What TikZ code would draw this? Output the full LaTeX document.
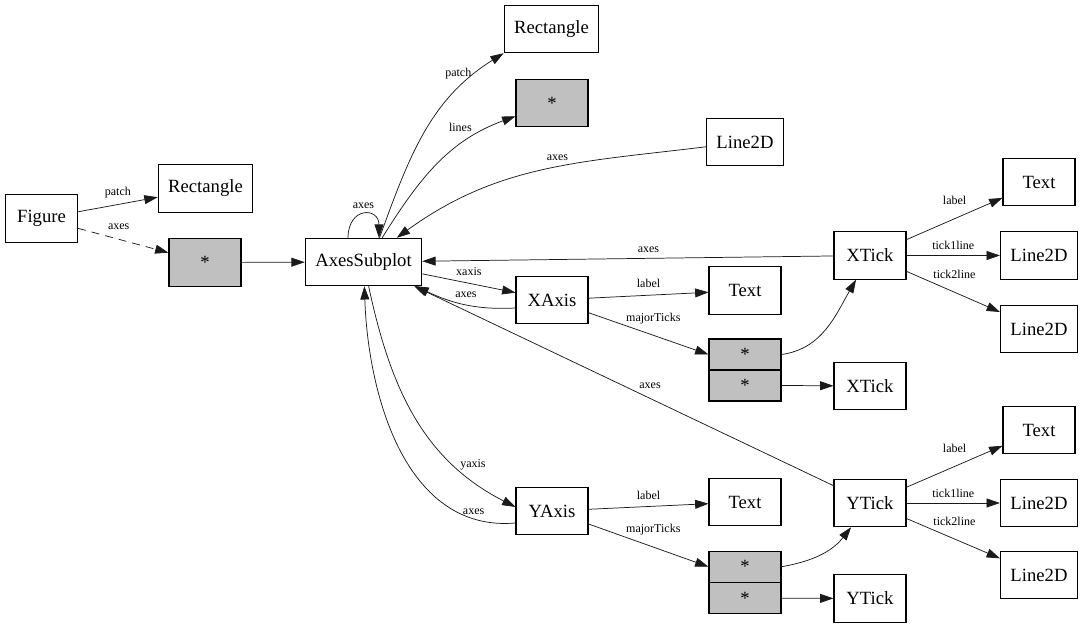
\documentclass[tikz,border=0pt]{standalone}
\usepackage{fontspec}
\setmainfont{Liberation Serif}
\usetikzlibrary{arrows.meta, positioning, calc}
\definecolor{refgray}{HTML}{C0C0C0}
\definecolor{edgeink}{HTML}{1A1A1A}

\begin{document}
\begin{tikzpicture}[
  x=0.75pt, y=0.75pt,
  >={Triangle[length=10pt, width=6.7pt]},
  obj/.style={draw, line width=0.8pt, minimum width=54pt, minimum height=35.5pt,
    inner xsep=7.5pt, font=\fontsize{14}{16}\selectfont},
  ref/.style={obj, fill=refgray},
  cell/.style={draw, line width=0.8pt, fill=refgray, minimum width=54pt,
    minimum height=23.25pt, inner sep=0pt, font=\fontsize{14}{16}\selectfont},
  link/.style={->, line width=0.55pt, draw=edgeink},
  lbl/.style={font=\fontsize{9}{10}\selectfont, inner sep=1pt,
    text height=6.2pt, text depth=1.9pt, text=black},
]

% Canvas: 1083 x 628 units, one unit per pixel of the layout
\useasboundingbox (0,0) rectangle (1083,628);

% --- Figure ---
\node[obj] (fig) at (41.5,409.5) {Figure};
\node[obj] (figpatch) at (205.5,439.5) {Rectangle};
\node[ref] (figaxes) at (205,365.5) {*};

% --- AxesSubplot and its children ---
\node[obj] (axsub) at (363.5,366) {AxesSubplot};
\node[obj] (axpatch) at (551.5,599) {Rectangle};
\node[ref] (axlines) at (552,525) {*};
\node[obj] (line) at (745,486) {Line2D};

% --- XAxis ---
\node[obj] (xaxis) at (552,328) {XAxis};
\node[obj] (xlabel) at (745,337.5) {Text};
\node[cell] (xmaj) at (745,273.5) {*};
\node[cell] (xmin) at (745,242.5) {*};
\node[obj] (xtick) at (870,372.5) {XTick};
\node[obj] (xtickb) at (870,242) {XTick};
\node[obj] (xtlabel) at (1039,446) {Text};
\node[obj] (xtline1) at (1039,372.5) {Line2D};
\node[obj] (xtline2) at (1039,299) {Line2D};

% --- YAxis ---
\node[obj] (yaxis) at (552,117) {YAxis};
\node[obj] (ylabel) at (745,126) {Text};
\node[cell] (ymaj) at (745,61.25) {*};
\node[cell] (ymin) at (745,29.75) {*};
\node[obj] (ytick) at (870,125) {YTick};
\node[obj] (ytickb) at (870,29.5) {YTick};
\node[obj] (ytlabel) at (1039,198) {Text};
\node[obj] (ytline1) at (1039,125) {Line2D};
\node[obj] (ytline2) at (1039,53) {Line2D};

% --- Figure edges ---
\draw[link] (fig) -- node[lbl, above=3.7pt] {patch} (figpatch);
\draw[link, dash pattern=on 6pt off 4.5pt] (fig) --
  node[lbl, pos=0.45, above=3.8pt] {axes} (figaxes);
\draw[link] (figaxes) -- (axsub);

% --- AxesSubplot edges ---
\draw[link] ([xshift=12pt]axsub.north) to[out=70, in=212]
  node[lbl, pos=0.86, left=2pt] {patch} (axpatch.south west);
\draw[link] ([xshift=14pt]axsub.north) to[out=58, in=200]
  node[lbl, pos=0.76, above left=0pt] {lines} (axlines);
\draw[link] (line) to[out=187, in=36]
  node[lbl, pos=0.45, above=2pt] {axes} (axsub);
\draw[link] ([xshift=-11.6pt]axsub.north) .. controls +(0,31) and +(0,31) ..
  ([xshift=11.6pt]axsub.north) node[lbl, midway, above=1pt] {axes};
\draw[link] (xtick) -- node[lbl, pos=0.45, above=1pt] {axes} (axsub);
\draw[link] (axsub) -- node[lbl, above=2.5pt] {xaxis} (xaxis);
\draw[link] ([yshift=-6pt]xaxis.west) to[out=183, in=335]
  node[lbl, pos=0.48, above=2pt] {axes} (axsub);
\draw[link] (ytick) -- node[lbl, pos=0.467, anchor=south west] {axes} (axsub);
\draw[link] (axsub) to[out=-78, in=153]
  node[lbl, pos=0.74, right=3pt] {yaxis} ([yshift=3pt]yaxis.west);
\draw[link] ([yshift=-9pt]yaxis.west) to[out=185, in=-88]
  node[lbl, pos=0.14, above=0pt] {axes} (axsub);

% --- XAxis edges ---
\draw[link] (xaxis) -- node[lbl, above=2.5pt] {label} (xlabel);
\draw[link] (xaxis) -- node[lbl, pos=0.3, anchor=south west] {majorTicks} (xmaj.west);
\draw[link] (xmaj.east) to[out=8, in=240] (xtick);
\draw[link] (xmin.east) -- (xtickb);
\draw[link] (xtick) -- node[lbl, pos=0.64, anchor=south east, yshift=3pt] {label} (xtlabel);
\draw[link] (xtick) -- node[lbl, above=1.3pt] {tick1line} (xtline1);
\draw[link] (xtick) -- node[lbl, pos=0.27, anchor=south west] {tick2line} (xtline2);

% --- YAxis edges ---
\draw[link] (yaxis) -- node[lbl, above=2pt] {label} (ylabel);
\draw[link] (yaxis) -- node[lbl, pos=0.3, anchor=south west] {majorTicks} (ymaj.west);
\draw[link] (ymaj.east) to[out=10, in=232] (ytick);
\draw[link] (ymin.east) -- (ytickb);
\draw[link] (ytick) -- node[lbl, pos=0.64, anchor=south east, yshift=3pt] {label} (ytlabel);
\draw[link] (ytick) -- node[lbl, above=1.3pt] {tick1line} (ytline1);
\draw[link] (ytick) -- node[lbl, pos=0.27, anchor=south west] {tick2line} (ytline2);

\end{tikzpicture}
\end{document}
